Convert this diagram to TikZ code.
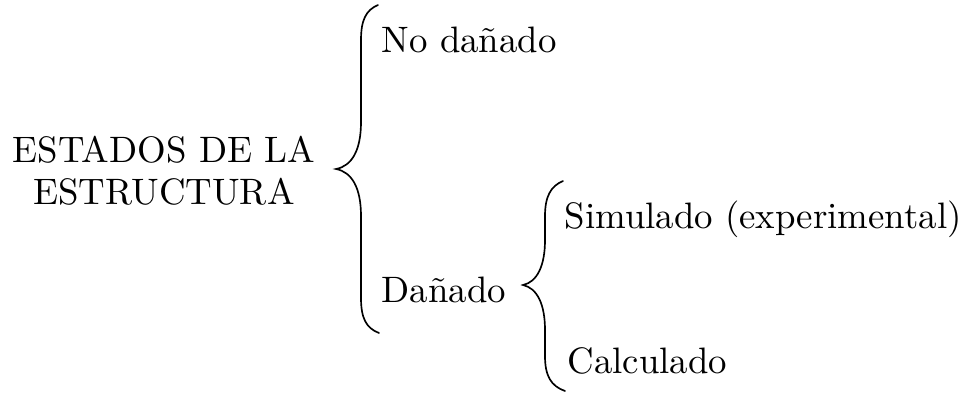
\documentclass[tikz,border=0pt]{standalone}
\usepackage{fontspec}
\usepackage{tikz}
\usetikzlibrary{positioning}

\tikzset{
  bracestroke/.style={line width=0.45pt, line cap=round},
  itemtext/.style={inner sep=0pt, anchor=base west, font=\fontsize{10}{12}\selectfont},
  titletext/.style={inner sep=0pt, align=center, font=\fontsize{10}{11.4}\selectfont}
}

\begin{document}
\begin{tikzpicture}[x=0.2717pt, y=-0.2717pt]
            \useasboundingbox (0,0) rectangle (968,392);
            % title on the left
            \node[titletext, anchor=base] (estados) at (164,204) {ESTADOS DE LA\\ESTRUCTURA};
            % first level
            \node[itemtext] (nodanado) at (381,52) {No dañado};
            \node[itemtext] (danado)   at (381,302) {Dañado};
            % second level
            \node[itemtext] (simulado)  at (564,228) {Simulado (experimental)};
            \node[itemtext] (calculado) at (567,373) {Calculado};
            % big brace
            \draw[bracestroke] (378,5) .. controls (366,10) and (361,20) .. (361,40) -- (361,122)
                 .. controls (361,150) and (352,166) .. (336,169)
                 .. controls (352,172) and (361,188) .. (361,216) -- (361,298)
                 .. controls (361,318) and (366,328) .. (379,333);
            % small brace
            \draw[bracestroke] (563,181) .. controls (551,186) and (545,196) .. (545,216) -- (545,240)
                 .. controls (545,266) and (537,282) .. (523,285)
                 .. controls (537,288) and (545,304) .. (545,330) -- (545,356)
                 .. controls (545,376) and (551,386) .. (565,391);
\end{tikzpicture}
\end{document}
